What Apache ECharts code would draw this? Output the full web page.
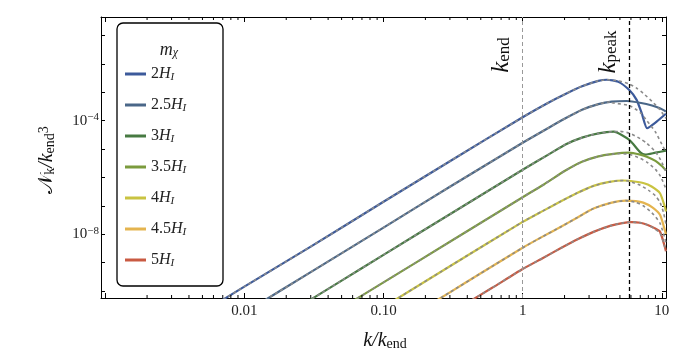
<!DOCTYPE html>
<html>
<head>
<meta charset="utf-8">
<script src="https://cdn.jsdelivr.net/npm/echarts@6.0.0/dist/echarts.min.js"></script>
<style>
  html, body { margin: 0; background: #fff; }
  #chart { width: 683px; height: 359px; }
</style>
</head>
<body>
<div id="chart"></div>
<script>
const FONT = '"Liberation Serif", "DejaVu Serif", serif'

// axis range, as powers of ten
const X_MIN_EXP = -3.03
const X_MAX_EXP = 1.03
const Y_MIN_EXP = -10.25
const Y_MAX_EXP = -0.35
const K_END = 1
const K_PEAK = 5.84

// tick labels
const xTickLabels = { '-2': '0.01', '-1': '0.10', '0': '1', '1': '10' }
const yTickLabels = [-4, -8]
const minorDecades = [-4, -3, -2, -1, 0, 1]
const minorMultipliers = [2, 3, 4, 5, 6, 7, 8, 9]

// legend: m_chi in units of H_I
const masses = ['2', '2.5', '3', '3.5', '4', '4.5', '5']
const colors = ['#3c5a9b', '#4a6788', '#477a42', '#7b9b3d', '#c9c341', '#e4b44f', '#c95a42']

// solid curves: k / k_end and log10(N_k / k_end^3)
const k_2 = [0.005, 0.01, 0.03, 0.1, 0.3, 1, 1.54, 2.03, 2.67, 3.5, 4.03, 4.87, 5.84, 6.59, 7.17, 7.84, 8.9, 10.7]
const logN_2 = [-10.75, -9.85, -8.44, -6.86, -5.43, -3.88, -3.36, -3.06, -2.79, -2.60, -2.56, -2.63, -2.92, -3.27, -3.74, -4.27, -4.09, -3.76]
const k_25 = [0.01, 0.03, 0.1, 0.3, 1, 1.54, 2.03, 2.67, 3.5, 4.37, 5.6, 7.1, 8.5, 9.6, 10.7]
const logN_25 = [-10.77, -9.34, -7.77, -6.33, -4.78, -4.25, -3.92, -3.62, -3.42, -3.33, -3.31, -3.38, -3.47, -3.56, -3.68]
const k_3 = [0.02, 0.05, 0.1, 0.3, 1, 1.54, 2.03, 2.67, 3.5, 4.5, 5.84, 7.0, 7.6, 9.0, 10.7]
const logN_3 = [-10.83, -9.64, -8.73, -7.30, -5.73, -5.19, -4.84, -4.60, -4.45, -4.39, -4.68, -5.12, -5.20, -5.13, -5.06]
const k_35 = [0.05, 0.1, 0.3, 1, 1.42, 2.03, 2.67, 3.5, 4.37, 5.84, 7.0, 7.8, 9.0, 10.0, 10.7]
const logN_35 = [-10.60, -9.70, -8.27, -6.70, -6.25, -5.76, -5.45, -5.26, -5.18, -5.13, -5.20, -5.27, -5.42, -5.60, -5.75]
const k_4 = [0.1, 0.3, 1, 1.4, 1.87, 2.46, 3.23, 4.2, 5.29, 5.84, 7.35, 8.5, 9.7, 10.5, 10.7]
const logN_4 = [-10.57, -9.13, -7.57, -7.18, -6.85, -6.55, -6.30, -6.16, -6.11, -6.12, -6.20, -6.33, -6.56, -7.03, -7.20]
const k_45 = [0.2, 0.3, 0.5, 1, 1.4, 1.87, 2.46, 3.23, 4.3, 5.5, 6.5, 7.35, 8.5, 9.7, 10.5, 10.7]
const logN_45 = [-10.58, -10.05, -9.38, -8.48, -8.08, -7.75, -7.42, -7.10, -6.90, -6.82, -6.84, -6.89, -7.05, -7.32, -7.85, -8.00]
const k_5 = [0.4, 0.6, 1, 1.4, 1.87, 2.46, 3.23, 4.3, 5.2, 6.08, 7.0, 7.84, 8.8, 9.7, 10.5, 10.7]
const logN_5 = [-10.42, -9.90, -9.23, -8.84, -8.50, -8.19, -7.92, -7.70, -7.61, -7.58, -7.60, -7.67, -7.78, -7.91, -8.44, -8.60]

// gray dashed curves: they follow the solid ones, then split off at these points
const kDash_2 = [4.87, 5.84, 6.6, 7.35, 8.5, 9.7, 10.7]
const logNDash_2 = [-2.60, -2.71, -2.86, -3.04, -3.32, -3.62, -3.92]
const kDash_25 = [4.4, 5.84, 7.0, 7.8, 9.0, 9.8, 10.7]
const logNDash_25 = [-3.37, -3.47, -3.72, -4.00, -4.40, -4.75, -5.10]
const kDash_3 = [5.0, 5.84, 7.0, 7.8, 9.0, 9.8, 10.7]
const logNDash_3 = [-4.38, -4.44, -4.64, -4.80, -5.10, -5.38, -5.80]
const kDash_35 = [5.0, 5.84, 7.0, 7.8, 9.0, 9.8, 10.7]
const logNDash_35 = [-5.16, -5.19, -5.33, -5.46, -5.72, -5.97, -6.40]
const kDash_4 = [5.84, 7.0, 8.0, 9.0, 9.7, 10.3, 10.7]
const logNDash_4 = [-6.14, -6.28, -6.45, -6.65, -6.88, -7.25, -7.65]
const kDash_45 = [6.5, 7.35, 8.5, 9.7, 10.5, 10.7]
const logNDash_45 = [-6.88, -7.00, -7.25, -7.61, -8.14, -8.30]
const kDash_5 = [8.8, 9.7, 10.3, 10.7]
const logNDash_5 = [-7.80, -7.96, -8.30, -8.60]

const curves = [
  { k: k_2, n: logN_2, kd: kDash_2, nd: logNDash_2 },
  { k: k_25, n: logN_25, kd: kDash_25, nd: logNDash_25 },
  { k: k_3, n: logN_3, kd: kDash_3, nd: logNDash_3 },
  { k: k_35, n: logN_35, kd: kDash_35, nd: logNDash_35 },
  { k: k_4, n: logN_4, kd: kDash_4, nd: logNDash_4 },
  { k: k_45, n: logN_45, kd: kDash_45, nd: logNDash_45 },
  { k: k_5, n: logN_5, kd: kDash_5, nd: logNDash_5 }
]

const toPoints = (ks, ns) => ks.map((k, i) => [k, Math.pow(10, ns[i])])
const names = masses.map(m => m + 'H')

const series = []
curves.forEach((c, i) => {
  series.push({
    name: names[i],
    type: 'line',
    data: toPoints(c.k, c.n),
    smooth: 0.2,
    showSymbol: false,
    itemStyle: { color: colors[i] },
    lineStyle: { color: colors[i], width: 2.2, join: 'round' },
    z: 3
  })
})
curves.forEach((c, i) => {
  const start = toPoints(c.k, c.n).filter(p => p[0] < c.kd[0])
  series.push({
    name: 'dash' + names[i],
    type: 'line',
    data: start.concat(toPoints(c.kd, c.nd)),
    smooth: 0.2,
    showSymbol: false,
    lineStyle: { color: '#8a8a8a', width: 1.6, type: [3, 3] },
    z: 4
  })
})

// k_end and k_peak lines
series.push({
  type: 'line',
  data: [],
  markLine: {
    silent: true,
    symbol: ['none', 'none'],
    label: { show: false },
    data: [
      { xAxis: K_END, lineStyle: { color: '#999', width: 1, type: [4, 3] } },
      { xAxis: K_PEAK, lineStyle: { color: '#000', width: 1.3, type: [4, 3] } }
    ]
  },
  z: 2
})

// minor ticks on bottom and top axes
const minorTicks = []
minorDecades.forEach(d => minorMultipliers.forEach(m => {
  const v = m * Math.pow(10, d)
  const e = Math.log10(v)
  if (e > X_MIN_EXP && e < X_MAX_EXP) minorTicks.push([v, Math.pow(10, Y_MIN_EXP)])
}))
series.push({
  type: 'custom',
  silent: true,
  data: minorTicks,
  renderItem: function (params, api) {
    const v = api.value(0)
    const b = api.coord([v, Math.pow(10, Y_MIN_EXP)])
    const t = api.coord([v, Math.pow(10, Y_MAX_EXP)])
    return {
      type: 'group',
      children: [
        { type: 'line', shape: { x1: b[0], y1: b[1], x2: b[0], y2: b[1] - 3 }, style: { stroke: '#000', lineWidth: 1 } },
        { type: 'line', shape: { x1: t[0], y1: t[1], x2: t[0], y2: t[1] + 3 }, style: { stroke: '#000', lineWidth: 1 } }
      ]
    }
  },
  z: 5
})

const expOf = v => Math.log10(v)
const isWhole = e => Math.abs(e - Math.round(e)) < 1e-6

const xAxisBase = {
  type: 'log',
  min: Math.pow(10, X_MIN_EXP),
  max: Math.pow(10, X_MAX_EXP),
  axisLine: { onZero: false, lineStyle: { color: '#000', width: 1 } },
  axisTick: { inside: true, length: 5, interval: 0, lineStyle: { color: '#000' } },
  splitLine: { show: false }
}
const yAxisBase = {
  type: 'log',
  min: Math.pow(10, Y_MIN_EXP),
  max: Math.pow(10, Y_MAX_EXP),
  axisLine: { onZero: false, lineStyle: { color: '#000', width: 1 } },
  axisTick: { inside: true, length: 4, interval: 0, lineStyle: { color: '#000' } },
  splitLine: { show: false }
}

const option = {
  animation: false,
  backgroundColor: '#fff',
  grid: { left: 101, right: 17, top: 17, bottom: 61 },
  xAxis: [
    Object.assign({}, xAxisBase, {
      position: 'bottom',
      axisLabel: {
        interval: 0,
        margin: 6,
        fontFamily: FONT,
        fontSize: 15,
        color: '#222',
        formatter: function (v) {
          const e = expOf(v)
          if (!isWhole(e)) return ''
          return xTickLabels[String(Math.round(e))] || ''
        }
      }
    }),
    Object.assign({}, xAxisBase, { position: 'top', axisLabel: { show: false } })
  ],
  yAxis: [
    Object.assign({}, yAxisBase, {
      position: 'left',
      axisLabel: {
        interval: 0,
        margin: 2,
        fontFamily: FONT,
        fontSize: 15,
        color: '#222',
        formatter: function (v) {
          const e = expOf(v)
          if (!isWhole(e)) return ''
          const r = Math.round(e)
          return yTickLabels.indexOf(r) >= 0 ? '{b|10}{p|\u2212' + Math.abs(r) + '}' : ''
        },
        rich: {
          b: { fontFamily: FONT, fontSize: 15, lineHeight: 18, color: '#222' },
          p: { fontFamily: FONT, fontSize: 11, lineHeight: 9, verticalAlign: 'top', color: '#222' }
        }
      }
    }),
    Object.assign({}, yAxisBase, { position: 'right', axisLabel: { show: false } })
  ],
  legend: {
    data: names,
    orient: 'vertical',
    left: 125,
    top: 66,
    padding: 0,
    itemGap: 14,
    itemWidth: 21,
    itemHeight: 3,
    icon: 'rect',
    selectedMode: false,
    formatter: name => '{n|' + name.slice(0, -1) + '}{h|H}{s|I}',
    textStyle: {
      fontFamily: FONT,
      fontSize: 16,
      color: '#222',
      rich: {
        n: { fontFamily: FONT, fontSize: 16, lineHeight: 18, color: '#222' },
        h: { fontFamily: FONT, fontSize: 16, lineHeight: 18, fontStyle: 'italic', color: '#222' },
        s: { fontFamily: FONT, fontSize: 11, lineHeight: 6, fontStyle: 'italic', verticalAlign: 'bottom', color: '#222' }
      }
    },
    z: 10
  },
  graphic: [
    {
      type: 'rect',
      shape: { x: 117, y: 23, width: 106, height: 263, r: 6 },
      style: { fill: '#fff', stroke: '#000', lineWidth: 1.3 },
      z: 8
    },
    {
      type: 'text',
      x: 169, y: 50, z: 9,
      style: {
        text: '{m|m}{s|\u03c7}',
        align: 'center', verticalAlign: 'middle',
        rich: {
          m: { fontFamily: FONT, fontSize: 18, fontStyle: 'italic', lineHeight: 18, fill: '#222' },
          s: { fontFamily: FONT, fontSize: 12, fontStyle: 'italic', lineHeight: 6, verticalAlign: 'bottom', fill: '#222' }
        }
      }
    },
    {
      type: 'text',
      x: 501, y: 55, rotation: Math.PI / 2, z: 9,
      style: {
        text: '{k|k}{s|end}',
        align: 'center', verticalAlign: 'middle',
        rich: {
          k: { fontFamily: FONT, fontSize: 25, fontStyle: 'italic', lineHeight: 24, fill: '#111' },
          s: { fontFamily: FONT, fontSize: 17, lineHeight: 9, verticalAlign: 'bottom', fill: '#111' }
        }
      }
    },
    {
      type: 'text',
      x: 608, y: 52, rotation: Math.PI / 2, z: 9,
      style: {
        text: '{k|k}{s|peak}',
        align: 'center', verticalAlign: 'middle',
        rich: {
          k: { fontFamily: FONT, fontSize: 25, fontStyle: 'italic', lineHeight: 24, fill: '#111' },
          s: { fontFamily: FONT, fontSize: 17, lineHeight: 9, verticalAlign: 'bottom', fill: '#111' }
        }
      }
    },
    {
      type: 'text',
      x: 385, y: 341, z: 9,
      style: {
        text: '{k|k/k}{s|end}',
        align: 'center', verticalAlign: 'middle',
        rich: {
          k: { fontFamily: FONT, fontSize: 20, fontStyle: 'italic', lineHeight: 20, fill: '#111' },
          s: { fontFamily: FONT, fontSize: 14, lineHeight: 8, verticalAlign: 'bottom', fill: '#111' }
        }
      }
    },
    {
      type: 'text',
      x: 47, y: 160, rotation: Math.PI / 2, z: 9,
      style: {
        text: '{N|\ud835\udca9}{s|k}{k|/k}{s|end}{p|3}',
        align: 'center', verticalAlign: 'middle',
        rich: {
          N: { fontFamily: FONT, fontSize: 20, lineHeight: 20, fill: '#111' },
          k: { fontFamily: FONT, fontSize: 20, fontStyle: 'italic', lineHeight: 20, fill: '#111' },
          s: { fontFamily: FONT, fontSize: 14, lineHeight: 8, verticalAlign: 'bottom', fill: '#111' },
          p: { fontFamily: FONT, fontSize: 14, lineHeight: 8, verticalAlign: 'top', fill: '#111' }
        }
      }
    }
  ],
  series: series
}

const myChart = echarts.init(document.getElementById('chart'))
myChart.setOption(option)
window.addEventListener('resize', function () {
  myChart.resize()
})
</script>
</body>
</html>
